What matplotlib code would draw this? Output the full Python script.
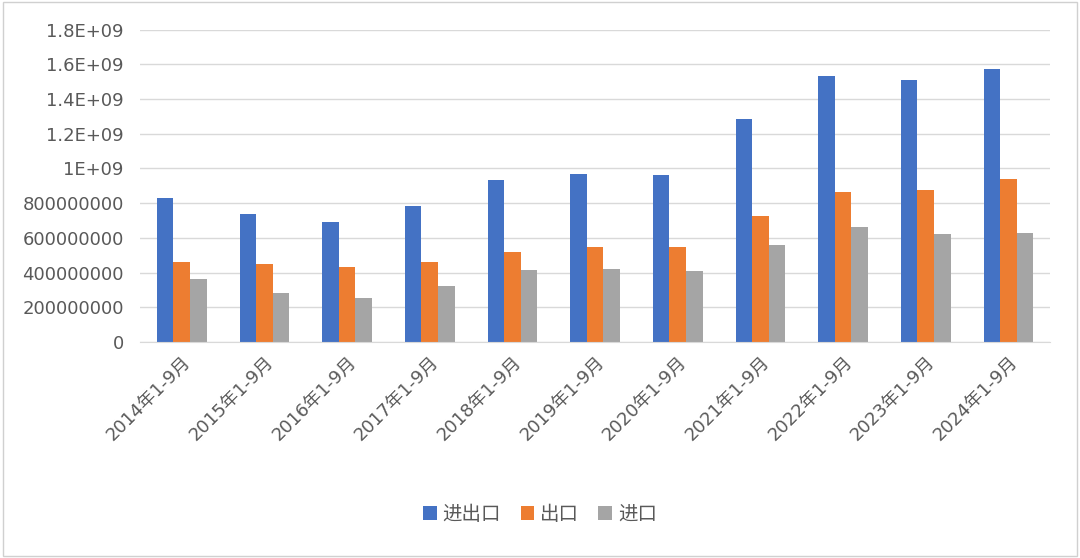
import matplotlib.pyplot as plt
import numpy as np
from matplotlib.ticker import FuncFormatter

plt.rcParams['font.family'] = ['DejaVu Sans', 'Noto Sans CJK SC']

years = ['2014年1-9月', '2015年1-9月', '2016年1-9月', '2017年1-9月', '2018年1-9月', '2019年1-9月',
         '2020年1-9月', '2021年1-9月', '2022年1-9月', '2023年1-9月', '2024年1-9月']
total = [830e6, 740e6, 690e6, 785e6, 932e6, 968e6, 962e6, 1285e6, 1530e6, 1508e6, 1575e6]
export = [460e6, 452e6, 432e6, 460e6, 518e6, 548e6, 548e6, 725e6, 865e6, 878e6, 938e6]
imports = [365e6, 285e6, 255e6, 322e6, 415e6, 422e6, 410e6, 557e6, 660e6, 622e6, 628e6]

fig = plt.figure(figsize=(10.8, 5.58), dpi=100)
ax = fig.add_axes([0.13, 0.387, 0.842, 0.56])
x = np.arange(len(years))
w = 0.2
ax.bar(x - w, total, w, color='#4472C4', label='进出口')
ax.bar(x, export, w, color='#ED7D31', label='出口')
ax.bar(x + w, imports, w, color='#A5A5A5', label='进口')

def fmt(v, pos):
    if v < 1e9:
        return '%d' % int(round(v))
    s = '%.1f' % (v / 1e9)
    if s.endswith('.0'):
        s = s[:-2]
    return s + 'E+09'

ax.set_ylim(0, 1.8e9)
ax.set_yticks(np.arange(0, 1.81e9, 2e8))
ax.yaxis.set_major_formatter(FuncFormatter(fmt))
ax.set_xlim(-0.5, len(years) - 0.5)
ax.set_xticks(x)
ax.set_xticklabels(years, rotation=45, ha='right', rotation_mode='anchor')
ax.tick_params(axis='both', length=0, labelsize=13, colors='#595959')
ax.tick_params(axis='y', pad=12)
ax.tick_params(axis='x', pad=8)
ax.grid(axis='y', color='#D9D9D9', linewidth=1)
ax.set_axisbelow(True)
for s in ['top', 'right', 'left']:
    ax.spines[s].set_visible(False)
ax.spines['bottom'].set_color('#D9D9D9')

fig.legend(loc='lower center', bbox_to_anchor=(0.5, 0.03), ncol=3, frameon=False,
           fontsize=14, handlelength=0.7, handleheight=0.7, columnspacing=1.0, handletextpad=0.3,
           labelcolor='#595959')
fig.patches.append(plt.Rectangle((0.003, 0.004), 0.994, 0.992, transform=fig.transFigure,
                                 fill=False, edgecolor='#D0D0D0', linewidth=1))
fig.savefig('out.png', dpi=100)
